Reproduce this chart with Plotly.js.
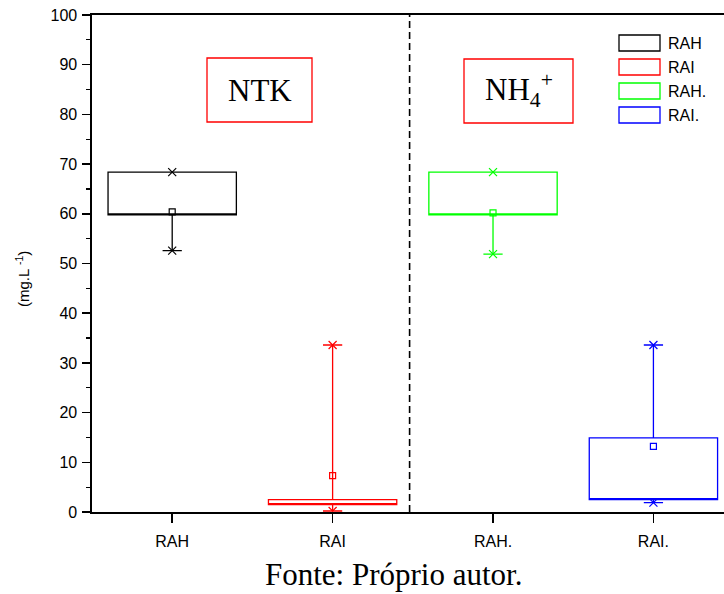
<!DOCTYPE html>
<html>
<head>
<meta charset="utf-8">
<script src="https://cdn.plot.ly/plotly-3.0.1.min.js"></script>
<style>html,body{margin:0;padding:0;background:#fff;overflow:hidden}#chart{width:724px;height:594px}</style>
</head>
<body>
<div id="chart"></div>
<script>
// ---- data ----
var categories = ['RAH', 'RAI', 'RAH.', 'RAI.'];
var colors     = ['#000000', '#ff0000', '#00ff00', '#0000ff'];
var q1Values     = [59.8, 1.5, 59.8, 2.5];
var medianValues = [59.8, 1.5, 59.8, 2.5];
var q3Values     = [68.4, 2.5, 68.4, 14.9];
var minValues    = [52.6, 0.2, 51.9, 1.9];
var maxValues    = [68.4, 33.6, 68.4, 33.6];
var meanValues   = [60.4, 7.3, 60.2, 13.2];
var yTickValues  = [0, 10, 20, 30, 40, 50, 60, 70, 80, 90, 100];
var dividerPosition = 1.48;
var panelLabels = ['NTK', 'NH<sub>4</sub><sup>+</sup>'];
var yAxisTitle = '(mg.L <sup>-1</sup>)';
var sourceText = 'Fonte: Próprio autor.';

var traces = [];
categories.forEach(function (c, i) {
  traces.push({
    type: 'box', name: c, x: [c],
    q1: [q1Values[i]], median: [medianValues[i]], q3: [q3Values[i]],
    lowerfence: [minValues[i]], upperfence: [maxValues[i]],
    boxpoints: false, width: 0.8, whiskerwidth: 0.15,
    fillcolor: 'rgba(0,0,0,0)',
    line: {color: colors[i], width: 1.3},
    showlegend: false, hoverinfo: 'skip'
  });
  traces.push({
    type: 'scatter', mode: 'markers', x: [c], y: [meanValues[i]],
    marker: {symbol: 'square-open', size: 6, color: colors[i], line: {width: 1.2, color: colors[i]}},
    showlegend: false, hoverinfo: 'skip'
  });
  traces.push({
    type: 'scatter', mode: 'markers', x: [c, c], y: [minValues[i], maxValues[i]],
    marker: {symbol: 'x-thin-open', size: 8, color: colors[i], line: {width: 1.2, color: colors[i]}},
    showlegend: false, hoverinfo: 'skip'
  });
});

// plot area in pixels: left 92, right 724, top 15, bottom 512
function px(x) { return (x - 92) / 632; }
function py(y) { return (512 - y) / 497; }

var shapes = [
  {type: 'line', xref: 'x', yref: 'paper', x0: dividerPosition, x1: dividerPosition, y0: 0, y1: 1,
   line: {color: '#000', width: 1.6, dash: '7px,4px'}},
  {type: 'rect', xref: 'paper', yref: 'paper', x0: px(207), x1: px(312), y0: py(122), y1: py(58),
   line: {color: '#ff0000', width: 1.3}},
  {type: 'rect', xref: 'paper', yref: 'paper', x0: px(464), x1: px(573), y0: py(123), y1: py(59),
   line: {color: '#ff0000', width: 1.3}}
];
var serif = 'Liberation Serif, Times New Roman, serif';
var sans = 'Liberation Sans, Arial, sans-serif';
var annotations = [
  {xref: 'paper', yref: 'paper', x: px(259.5), y: py(90), xanchor: 'center', yanchor: 'middle',
   text: panelLabels[0], showarrow: false, font: {family: serif, size: 31, color: '#000'}},
  {xref: 'paper', yref: 'paper', x: px(518.5), y: py(90), xanchor: 'center', yanchor: 'middle',
   text: panelLabels[1], showarrow: false, font: {family: serif, size: 31, color: '#000'}},
  {xref: 'paper', yref: 'paper', x: px(23), y: py(279), xanchor: 'center', yanchor: 'middle',
   text: yAxisTitle, showarrow: false, textangle: -90, font: {family: sans, size: 15, color: '#000'}},
  {xref: 'paper', yref: 'paper', x: px(393), y: py(574), xanchor: 'center', yanchor: 'middle',
   text: sourceText, showarrow: false, font: {family: serif, size: 31, color: '#000'}}
];
// manual legend
categories.forEach(function (c, i) {
  var cy = 43 + 24 * i;
  shapes.push({type: 'rect', xref: 'paper', yref: 'paper', x0: px(619), x1: px(660), y0: py(cy + 8), y1: py(cy - 8),
    line: {color: colors[i], width: 1.3}});
  annotations.push({xref: 'paper', yref: 'paper', x: px(666), y: py(cy), xanchor: 'left', yanchor: 'middle',
    text: c, showarrow: false, font: {family: sans, size: 16, color: '#000'}});
});

var layout = {
  width: 724, height: 594,
  margin: {l: 92, r: 0, t: 15, b: 82},
  paper_bgcolor: '#fff', plot_bgcolor: '#fff',
  showlegend: false, boxmode: 'overlay',
  xaxis: {
    type: 'category', categoryarray: categories, categoryorder: 'array',
    range: [-0.5, 3.44], showgrid: false, zeroline: false,
    showline: true, linecolor: '#000', linewidth: 1.6, mirror: true,
    ticks: 'outside', ticklen: 9, tickwidth: 1.5, tickcolor: '#000', ticklabelstandoff: 5,
    tickfont: {family: sans, size: 16, color: '#000'}
  },
  yaxis: {
    range: [0, 100], tickvals: yTickValues, showgrid: false, zeroline: false,
    showline: true, linecolor: '#000', linewidth: 1.6,
    ticks: 'outside', ticklen: 8, tickwidth: 1.5, tickcolor: '#000', ticklabelstandoff: 2,
    minor: {dtick: 5, ticks: 'outside', ticklen: 4, tickwidth: 1.2, tickcolor: '#000', showgrid: false},
    tickfont: {family: sans, size: 16, color: '#000'}
  },
  shapes: shapes,
  annotations: annotations
};

Plotly.newPlot('chart', traces, layout, {displayModeBar: false, staticPlot: true});
</script>
</body>
</html>
